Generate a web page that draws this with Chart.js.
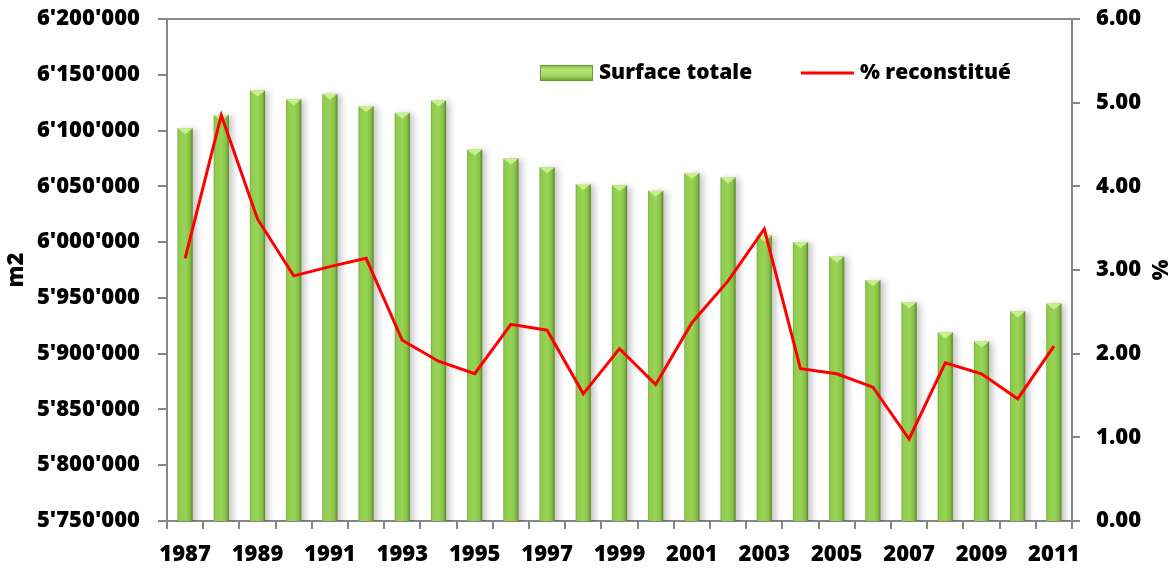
<!DOCTYPE html>
<html>
<head>
<meta charset="utf-8">
<script src="https://cdn.jsdelivr.net/npm/chart.js@4"></script>
<style>
  html, body { margin: 0; padding: 0; background: #fff; }
  #wrap { width: 1176px; height: 571px; position: relative; }
</style>
</head>
<body>
<div id="wrap"><canvas id="myChart"></canvas></div>
<script>
const years = ['1987', '1988', '1989', '1990', '1991', '1992', '1993', '1994', '1995', '1996', '1997', '1998', '1999',
               '2000', '2001', '2002', '2003', '2004', '2005', '2006', '2007', '2008', '2009', '2010', '2011'];
const surfaceTotale = [6102000, 6114000, 6136000, 6128000, 6133000, 6122000, 6116000, 6127000, 6083000, 6075000,
                       6067000, 6052000, 6051000, 6046000, 6062000, 6058000, 6006000, 6000000, 5987000, 5966000,
                       5946000, 5919000, 5911000, 5938000, 5945000];
const pctReconstitue = [3.14, 4.85, 3.61, 2.93, 3.04, 3.14, 2.16, 1.91, 1.76, 2.35, 2.28, 1.52, 2.06,
                        1.63, 2.37, 2.87, 3.49, 1.82, 1.76, 1.60, 0.98, 1.89, 1.76, 1.46, 2.09];
const leftMin = 5750000, leftMax = 6200000, leftStep = 50000;
const rightMin = 0, rightMax = 6, rightStep = 1;

const axisGray = '#868686';
const tickFont = { family: 'Open Sans', weight: '800', size: 22 };

function apos(v) {
  return String(v).replace(/\B(?=(\d{3})+(?!\d))/g, "'");
}

// bar fill: green cylinder-ish gradient across each bar
function barFill(c) {
  const chart = c.chart;
  const x = chart.scales && chart.scales.x;
  const cx = x ? x.getPixelForValue(c.dataIndex) : NaN;
  if (!isFinite(cx)) return '#92d050';
  const g = chart.ctx.createLinearGradient(cx - 8, 0, cx + 8, 0);
  g.addColorStop(0, '#6f9e35');
  g.addColorStop(0.12, '#8fcb4e');
  g.addColorStop(0.5, '#97d456');
  g.addColorStop(0.8, '#86c146');
  g.addColorStop(1, '#557c26');
  return g;
}

const decor = {
  id: 'decor',
  beforeDatasetDraw(chart, args) {
    if (args.index === 0) {
      const ctx = chart.ctx;
      ctx.save();
      ctx.shadowColor = 'rgba(0,0,0,0.22)';
      ctx.shadowBlur = 6;
      ctx.shadowOffsetX = 4;
      ctx.shadowOffsetY = 1;
    }
  },
  afterDatasetDraw(chart, args) {
    if (args.index !== 0) return;
    const ctx = chart.ctx;
    ctx.restore();
    // top bevel of each bar
    chart.getDatasetMeta(0).data.forEach(function (el) {
      const l = el.x - el.width / 2, r = el.x + el.width / 2;
      ctx.fillStyle = '#c9ee8e';
      ctx.beginPath();
      ctx.moveTo(l, el.y);
      ctx.lineTo(r, el.y);
      ctx.lineTo(el.x, el.y + 6);
      ctx.closePath();
      ctx.fill();
    });
  },
  afterDraw(chart) {
    const ctx = chart.ctx;
    const a = chart.chartArea;
    ctx.save();
    // top frame line
    ctx.strokeStyle = axisGray;
    ctx.lineWidth = 2;
    ctx.beginPath();
    ctx.moveTo(a.left - 1, a.top);
    ctx.lineTo(a.right, a.top);
    ctx.stroke();

    // legend
    const ds = chart.data.datasets;
    ctx.font = '800 21px "Open Sans"';
    ctx.textBaseline = 'middle';
    const ly = 73;
    const g = ctx.createLinearGradient(0, 65, 0, 81);
    g.addColorStop(0, '#7fb83e');
    g.addColorStop(0.3, '#b9e57c');
    g.addColorStop(0.7, '#9bd65a');
    g.addColorStop(1, '#6a9a30');
    ctx.fillStyle = g;
    ctx.fillRect(540, 65, 53, 16);
    ctx.strokeStyle = '#6a9a30';
    ctx.lineWidth = 1;
    ctx.strokeRect(540.5, 65.5, 52, 15);
    ctx.fillStyle = '#000';
    ctx.fillText(ds[0].label, 599, ly);
    ctx.strokeStyle = '#ff0000';
    ctx.lineWidth = 3;
    ctx.beginPath();
    ctx.moveTo(801, ly);
    ctx.lineTo(854, ly);
    ctx.stroke();
    ctx.fillText(ds[1].label, 860, ly);
    ctx.restore();
  }
};

function noPad(s) {
  s.paddingTop = 0;
  s.paddingBottom = 0;
}

const ctx = document.getElementById('myChart');

new Chart(ctx, {
  data: {
    labels: years,
    datasets: [{
      type: 'bar',
      label: 'Surface totale',
      data: surfaceTotale,
      yAxisID: 'y',
      backgroundColor: barFill,
      borderWidth: 0,
      categoryPercentage: 1,
      barPercentage: 0.42,
      order: 2
    }, {
      type: 'line',
      label: '% reconstitué',
      data: pctReconstitue,
      yAxisID: 'y1',
      borderColor: '#ff0000',
      borderWidth: 3,
      pointRadius: 0,
      tension: 0,
      order: 1
    }]
  },
  options: {
    responsive: true,
    maintainAspectRatio: false,
    animation: false,
    layout: { padding: { top: 19, left: 0, right: 0, bottom: 0 } },
    plugins: {
      legend: { display: false },
      tooltip: { enabled: false }
    },
    scales: {
      x: {
        grid: { offset: true, drawOnChartArea: false, tickLength: 8, color: axisGray, lineWidth: 2 },
        border: { color: axisGray, width: 2 },
        ticks: {
          font: tickFont,
          color: '#000',
          autoSkip: false,
          maxRotation: 0,
          padding: 13,
          callback: function (v, i) { return i % 2 === 0 ? this.getLabelForValue(v) : ''; }
        },
        afterFit: function (s) { s.height = 50; s.paddingLeft = 0; s.paddingRight = 0; }
      },
      y: {
        position: 'left',
        min: leftMin,
        max: leftMax,
        grid: { drawOnChartArea: false, tickLength: 9, color: axisGray, lineWidth: 2 },
        border: { color: axisGray, width: 2 },
        ticks: { stepSize: leftStep, font: tickFont, color: '#000', padding: 18, callback: v => apos(v) },
        title: { display: true, text: 'm2', font: tickFont, color: '#000', padding: { top: 4, bottom: 0 } },
        afterFit: function (s) { s.width = 167; noPad(s); }
      },
      y1: {
        position: 'right',
        min: rightMin,
        max: rightMax,
        grid: { drawOnChartArea: false, tickLength: 8, color: axisGray, lineWidth: 2 },
        border: { color: axisGray, width: 2 },
        ticks: { stepSize: rightStep, font: tickFont, color: '#000', padding: 16, callback: v => v.toFixed(2) },
        title: { display: true, text: '%', font: tickFont, color: '#000', padding: { top: 5, bottom: 0 } },
        afterFit: function (s) { s.width = 104; noPad(s); }
      }
    }
  },
  plugins: [decor]
});
</script>
</body>
</html>
